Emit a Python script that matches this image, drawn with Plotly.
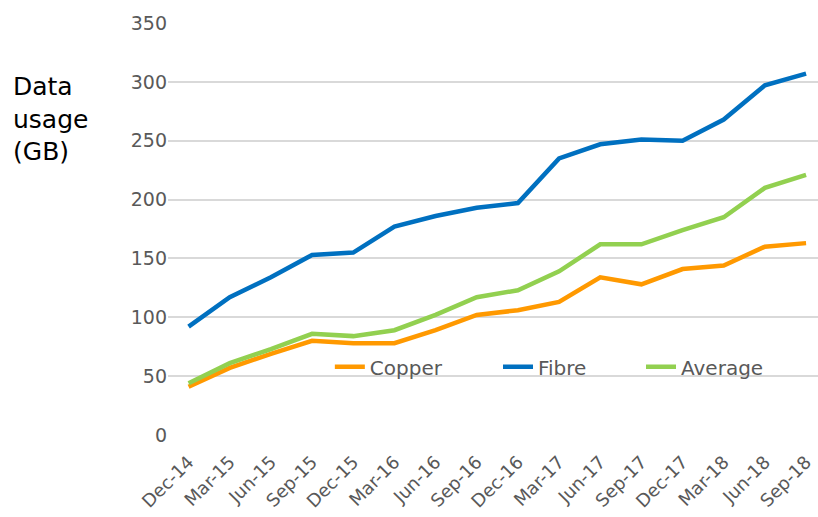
import plotly.graph_objects as go

# Quarterly average monthly data usage per connection type (GB)
quarters = ["Dec-14", "Mar-15", "Jun-15", "Sep-15", "Dec-15", "Mar-16", "Jun-16", "Sep-16",
            "Dec-16", "Mar-17", "Jun-17", "Sep-17", "Dec-17", "Mar-18", "Jun-18", "Sep-18"]
copper = [41, 57, 69, 80, 78, 78, 89, 102, 106, 113, 134, 128, 141, 144, 160, 163]
fibre = [92, 117, 134, 153, 155, 177, 186, 193, 197, 235, 247, 251, 250, 268, 297, 307]
average = [44, 61, 73, 86, 84, 89, 102, 117, 123, 139, 162, 162, 174, 185, 210, 221]

y_ticks = [0, 50, 100, 150, 200, 250, 300, 350]

FONT = "DejaVu Sans"
GREY = "#595959"

series = [
    ("Copper", copper, "#FF9900", "legend"),
    ("Fibre", fibre, "#0070C0", "legend2"),
    ("Average", average, "#92D050", "legend3"),
]

fig = go.Figure()
for name, vals, color, leg in series:
    fig.add_trace(go.Scatter(
        x=quarters, y=vals, name=name, mode="lines",
        line=dict(color=color, width=4.5),
        legend=leg, showlegend=True,
    ))

legend_style = dict(
    orientation="h", yanchor="middle", y=0.1655, xanchor="left",
    bgcolor="rgba(0,0,0,0)", borderwidth=0,
    font=dict(family=FONT, size=20, color=GREY),
)

fig.update_layout(
    width=818, height=517,
    margin=dict(l=168, r=0, t=23, b=82, autoexpand=False),
    paper_bgcolor="white", plot_bgcolor="white",
    font=dict(family=FONT, color=GREY),
    showlegend=True,
    legend=dict(x=0.249, **legend_style),
    legend2=dict(x=0.5077, **legend_style),
    legend3=dict(x=0.7277, **legend_style),
    xaxis=dict(
        type="category", range=[-0.5, 15.29], automargin=False,
        tickangle=-45, tickfont=dict(family=FONT, size=18, color=GREY),
        ticklabelstandoff=12,
        showgrid=False, showline=False, zeroline=False, ticks="",
    ),
    yaxis=dict(
        range=[0, 350], tickvals=y_ticks, automargin=False,
        tickfont=dict(family=FONT, size=19, color=GREY),
        showgrid=True, gridcolor="#D9D9D9", gridwidth=1.5,
        zeroline=False, showline=False, ticks="",
    ),
    annotations=[dict(
        text="Data<br>usage<br>(GB)", xref="paper", yref="paper",
        x=-0.242, y=0.885, xanchor="left", yanchor="top", align="left",
        showarrow=False, font=dict(family=FONT, size=25, color="black"),
    )],
)

fig.write_html("out.html")
